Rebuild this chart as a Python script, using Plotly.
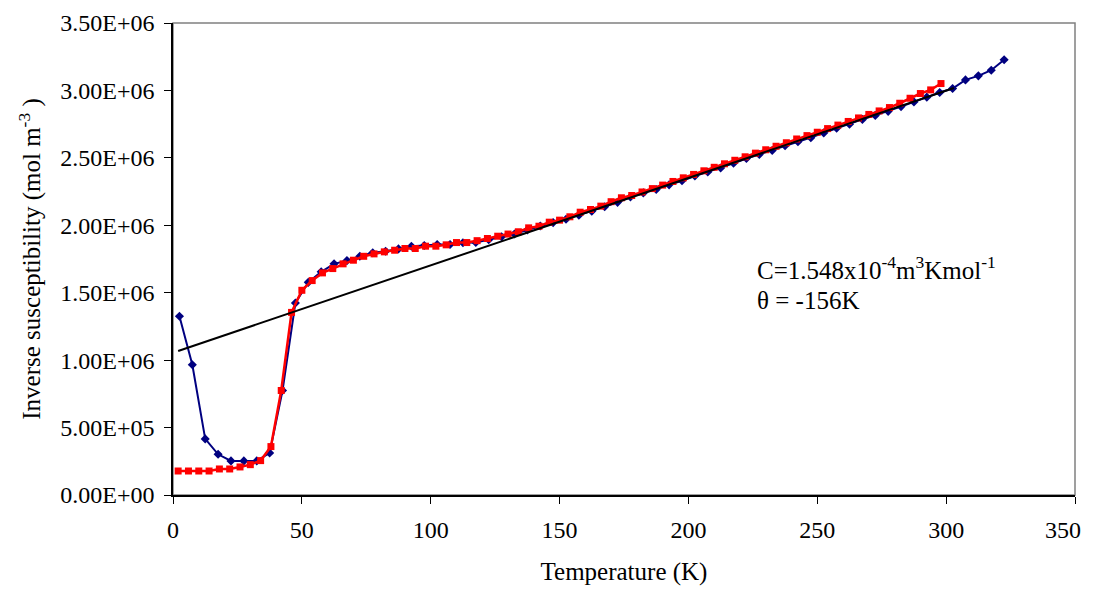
import plotly.graph_objects as go

# Blue series (diamonds)
blue_T = [2.5, 7.5, 12.5, 17.5, 22.5, 27.5, 32.5, 37.5, 42.5, 47.5,
          52.5, 57.5, 62.5, 67.5, 72.5, 77.5, 82.5, 87.5, 92.5, 97.5,
          102.5, 107.5, 112.5, 117.5, 122.5, 127.5, 132.5, 137.5, 142.5, 147.5,
          152.5, 157.5, 162.5, 167.5, 172.5, 177.5, 182.5, 187.5, 192.5, 197.5,
          202.5, 207.5, 212.5, 217.5, 222.5, 227.5, 232.5, 237.5, 242.5, 247.5,
          252.5, 257.5, 262.5, 267.5, 272.5, 277.5, 282.5, 287.5, 292.5, 297.5,
          302.5, 307.5, 312.5, 317.5, 322.5]
blue_inv = [1.325e6, 0.966e6, 0.416e6, 0.302e6, 0.253e6, 0.253e6, 0.253e6, 0.312e6, 0.775e6, 1.424e6,
            1.577e6, 1.655e6, 1.714e6, 1.738e6, 1.770e6, 1.796e6, 1.807e6, 1.825e6, 1.845e6, 1.850e6,
            1.857e6, 1.857e6, 1.870e6, 1.872e6, 1.893e6, 1.915e6, 1.935e6, 1.965e6, 1.995e6, 2.020e6,
            2.045e6, 2.075e6, 2.105e6, 2.137e6, 2.170e6, 2.210e6, 2.240e6, 2.265e6, 2.300e6, 2.330e6,
            2.365e6, 2.395e6, 2.425e6, 2.460e6, 2.495e6, 2.525e6, 2.555e6, 2.590e6, 2.620e6, 2.650e6,
            2.685e6, 2.720e6, 2.750e6, 2.785e6, 2.815e6, 2.845e6, 2.880e6, 2.915e6, 2.950e6, 2.985e6,
            3.014e6, 3.078e6, 3.108e6, 3.150e6, 3.227e6]

# Red series (squares)
red_T = [2, 6, 10, 14, 18, 22, 26, 30, 34, 38, 42, 46, 50, 54, 58, 62, 66, 70, 74, 78,
         82, 86, 90, 94, 98, 102, 106, 110, 114, 118, 122, 126, 130, 134, 138, 142, 146, 150, 154, 158,
         162, 166, 170, 174, 178, 182, 186, 190, 194, 198, 202, 206, 210, 214, 218, 222, 226, 230, 234, 238,
         242, 246, 250, 254, 258, 262, 266, 270, 274, 278, 282, 286, 290, 294, 298]
red_inv = [0.178e6, 0.178e6, 0.178e6, 0.178e6, 0.193e6, 0.193e6, 0.208e6, 0.225e6, 0.255e6, 0.359e6,
           0.775e6, 1.354e6, 1.518e6, 1.590e6, 1.647e6, 1.679e6, 1.714e6, 1.741e6, 1.770e6, 1.788e6,
           1.803e6, 1.815e6, 1.828e6, 1.828e6, 1.845e6, 1.845e6, 1.855e6, 1.872e6, 1.872e6, 1.886e6,
           1.902e6, 1.919e6, 1.935e6, 1.952e6, 1.981e6, 1.993e6, 2.023e6, 2.038e6, 2.063e6, 2.097e6,
           2.117e6, 2.142e6, 2.175e6, 2.204e6, 2.221e6, 2.247e6, 2.272e6, 2.298e6, 2.325e6, 2.352e6,
           2.377e6, 2.404e6, 2.430e6, 2.456e6, 2.482e6, 2.508e6, 2.535e6, 2.560e6, 2.586e6, 2.612e6,
           2.640e6, 2.665e6, 2.690e6, 2.717e6, 2.743e6, 2.770e6, 2.796e6, 2.822e6, 2.848e6, 2.873e6,
           2.905e6, 2.942e6, 2.977e6, 3.004e6, 3.051e6]

# Curie-Weiss fit line
fit_T = [2, 303]
fit_inv = [1.068e6, 3.018e6]

y_tickvals = [0, 5e5, 1e6, 1.5e6, 2e6, 2.5e6, 3e6, 3.5e6]
y_ticktext = ["0.00E+00", "5.00E+05", "1.00E+06", "1.50E+06", "2.00E+06",
              "2.50E+06", "3.00E+06", "3.50E+06"]
x_tickvals = [0, 50, 100, 150, 200, 250, 300, 350]
x_ticktext = ["0", "50", "100", "150", "200", "250", "300", "350"]

FONT = "Liberation Serif, Times New Roman, serif"

fig = go.Figure()
fig.add_trace(go.Scatter(x=blue_T, y=blue_inv, mode="lines+markers",
                         line=dict(color="#000080", width=2),
                         marker=dict(symbol="diamond", size=7, color="#000080"),
                         showlegend=False, cliponaxis=False))
fig.add_trace(go.Scatter(x=red_T, y=red_inv, mode="lines+markers",
                         line=dict(color="#FF0000", width=2.5),
                         marker=dict(symbol="square", size=7, color="#FF0000"),
                         showlegend=False, cliponaxis=False))
fig.add_trace(go.Scatter(x=fit_T, y=fit_inv, mode="lines",
                         line=dict(color="#000000", width=2),
                         showlegend=False))

# last x tick label is drawn as an annotation nudged left so it stays fully visible
axis_ticktext = x_ticktext[:-1] + [""]

fig.update_layout(
    width=1080, height=578,
    margin=dict(l=165, r=13, t=15, b=91, autoexpand=False),
    paper_bgcolor="white", plot_bgcolor="white",
    font=dict(family=FONT, size=24, color="black"),
    xaxis=dict(range=[0, 350], tickvals=x_tickvals, ticktext=axis_ticktext,
               showgrid=False, zeroline=False, automargin=False,
               showline=True, linecolor="black", linewidth=1.5,
               ticks="outside", ticklen=7, tickcolor="black", tickwidth=1,
               ticklabelstandoff=5,
               tickfont=dict(family=FONT, size=24),
               title=dict(text="Temperature (K)", font=dict(family=FONT, size=25), standoff=28)),
    yaxis=dict(range=[0, 3.5e6], tickvals=y_tickvals, ticktext=y_ticktext,
               showgrid=False, zeroline=False, automargin=False,
               showline=True, linecolor="black", linewidth=1.5,
               ticks="outside", ticklen=7, tickcolor="black", tickwidth=1,
               ticklabelstandoff=5,
               tickfont=dict(family=FONT, size=24),
               title=dict(text="Inverse susceptibility (mol m<sup>-3</sup> )",
                          font=dict(family=FONT, size=25), standoff=12)),
    shapes=[dict(type="rect", xref="paper", yref="paper", x0=0, y0=0, x1=1, y1=1,
                 line=dict(color="#808080", width=1.5), layer="below")],
    annotations=[
        dict(text=x_ticktext[-1], xref="x", yref="paper", x=x_tickvals[-1], y=0,
             xanchor="right", yanchor="middle", xshift=8, yshift=-35,
             showarrow=False, font=dict(family=FONT, size=24)),
        dict(text="C=1.548x10<sup>-4</sup>m<sup>3</sup>Kmol<sup>-1</sup>",
             xref="x", yref="y", x=226, y=1.68e6, xanchor="left", yanchor="middle",
             showarrow=False, font=dict(family=FONT, size=25)),
        dict(text="θ = -156K",
             xref="x", yref="y", x=226, y=1.44e6, xanchor="left", yanchor="middle",
             showarrow=False, font=dict(family=FONT, size=25)),
    ],
)

fig.write_html("out.html")
